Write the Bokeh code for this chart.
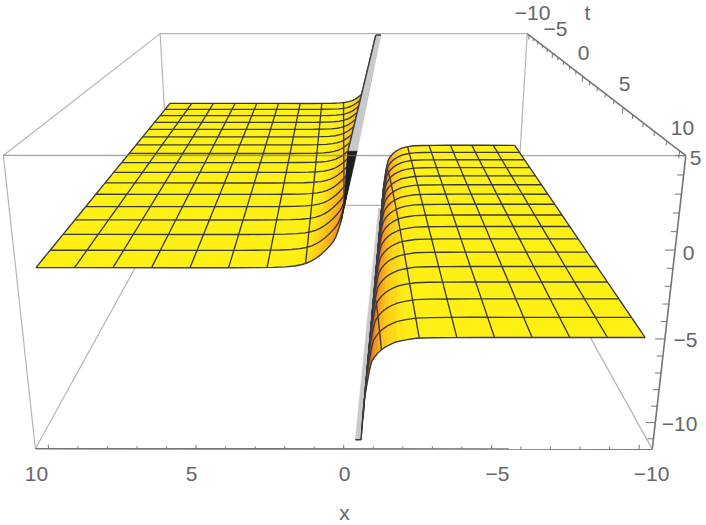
import numpy as np
from bokeh.plotting import figure
from bokeh.models import Range1d, ColumnDataSource
from bokeh.core.properties import value
from bokeh.embed import file_html
from bokeh.resources import INLINE

# --- values (axis units) ---
X_BOX = 10.45
T_BOX = 10.45
Z_TOP = 5.0
Z_BOTTOM = -11.65
mesh_x = [10, 8.75, 7.5, 6.25, 5, 3.75, 2.5, 1.25, 0, -1.25, -2.5, -3.75, -5, -6.25, -7.5, -8.75, -10]
mesh_t = [-10, -8.75, -7.5, -6.25, -5, -3.75, -2.5, -1.25, 0, 1.25, 2.5, 3.75, 5, 6.25, 7.5, 8.75, 10]
ridge_at_t0 = -1.25
ridge_per_t = 0.085
left_level = -1.35
right_level = -5.37
# distance from the ridge and height above / below the flat level of each sheet
left_dist = [0.29, 0.31, 0.33, 0.36, 0.40, 0.45, 0.50, 0.56, 0.62, 0.68, 0.76, 0.85, 1.0, 1.15, 1.3, 1.45, 1.6, 1.8, 2.0, 2.3, 2.7, 3.2, 4, 6, 9, 13]
left_rise = [6.35, 5.75, 5.3, 4.55, 3.7, 3.05, 2.6, 2.25, 1.95, 1.68, 1.45, 1.25, 0.98, 0.74, 0.55, 0.39, 0.27, 0.17, 0.10, 0.05, 0.02, 0.01, 0, 0, 0, 0]
right_dist = [0.20, 0.22, 0.24, 0.27, 0.30, 0.37, 0.45, 0.53, 0.62, 0.72, 0.85, 1.0, 1.15, 1.33, 1.6, 2.0, 2.5, 3.2, 4, 6, 9, 13]
right_drop = [6.28, 5.6, 5.05, 4.3, 3.75, 2.9, 2.05, 1.45, 1.18, 0.95, 0.73, 0.55, 0.41, 0.27, 0.16, 0.05, 0.02, 0.01, 0, 0, 0, 0]
x_tick_labels = ["10", "5", "0", "\u22125", "\u221210"]
t_tick_labels = ["\u221210", "\u22125", "0", "5", "10"]
z_tick_labels = ["5", "0", "\u22125", "\u221210"]

# --- camera: fitted to where the box corners and ticks fall in the picture ---
calib_3d = [(X_BOX, T_BOX, Z_TOP), (-X_BOX, T_BOX, Z_TOP), (X_BOX, T_BOX, Z_BOTTOM), (-X_BOX, T_BOX, Z_BOTTOM),
            (X_BOX, -T_BOX, Z_TOP), (-X_BOX, -T_BOX, Z_TOP), (X_BOX, -T_BOX, Z_BOTTOM), (-X_BOX, -T_BOX, Z_BOTTOM),
            (-X_BOX, T_BOX, 0), (-X_BOX, T_BOX, -5), (-X_BOX, T_BOX, -10)]
calib_px = [(2.5, 155), (685, 155), (35, 448), (652, 448), (160, 33), (527, 33), (169, 205), (516, 205),
            (674, 250), (664, 339), (656, 422)]
A, b = [], []
for (x, t, z), (u, v) in zip(calib_3d, calib_px):
    A.append([x, t, z, 1, 0, 0, 0, 0, -u * x, -u * t, -u * z]); b.append(u)
    A.append([0, 0, 0, 0, x, t, z, 1, -v * x, -v * t, -v * z]); b.append(v)
P = np.append(np.linalg.lstsq(np.array(A, float), np.array(b, float), rcond=None)[0], 1.0).reshape(3, 4)


def proj(x, t, z):
    x, t, z = np.broadcast_arrays(np.asarray(x, float), np.asarray(t, float), np.asarray(z, float))
    w = P[2, 0] * x + P[2, 1] * t + P[2, 2] * z + P[2, 3]
    return ((P[0, 0] * x + P[0, 1] * t + P[0, 2] * z + P[0, 3]) / w,
            (P[1, 0] * x + P[1, 1] * t + P[1, 2] * z + P[1, 3]) / w)


def ridge(t):
    return ridge_at_t0 + ridge_per_t * np.asarray(t, float)


p = figure(width=706, height=525, x_range=Range1d(0, 706), y_range=Range1d(525, 0),
           x_axis_type=None, y_axis_type=None, toolbar_location=None, output_backend="svg",
           min_border=0, outline_line_color=None, background_fill_color="white",
           styles={"position": "absolute", "left": "0px", "top": "0px"})


def lines(segs, color, width, alpha=1.0):
    xs, ys = [], []
    for (a, b_, c) in segs:
        u, v = proj(a, b_, c)
        xs.append(list(u)); ys.append(list(v))
    p.multi_line(xs, ys, line_color=color, line_width=width, line_alpha=alpha)


GREY = "#b4b4b4"
AX = "#757575"
# back of the box
lines([([X_BOX, -X_BOX], [-T_BOX, -T_BOX], [Z_TOP, Z_TOP]),
       ([X_BOX, -X_BOX], [-T_BOX, -T_BOX], [Z_BOTTOM, Z_BOTTOM]),
       ([X_BOX, X_BOX], [-T_BOX, -T_BOX], [Z_TOP, Z_BOTTOM]),
       ([-X_BOX, -X_BOX], [-T_BOX, -T_BOX], [Z_TOP, Z_BOTTOM]),
       ([X_BOX, X_BOX], [-T_BOX, T_BOX], [Z_TOP, Z_TOP]),
       ([X_BOX, X_BOX], [-T_BOX, T_BOX], [Z_BOTTOM, Z_BOTTOM]),
       ([-X_BOX, -X_BOX], [-T_BOX, T_BOX], [Z_BOTTOM, Z_BOTTOM]),
       ([X_BOX, X_BOX], [T_BOX, T_BOX], [Z_TOP, Z_BOTTOM])], GREY, 1.2)

YEL = np.array([255, 240, 20.0])
ORA = np.array([250, 150, 20.0])
BRN = np.array([170, 85, 25.0])
BLK = "#1e1e20"


def shade(s):
    s = float(s)
    if s < 0.2:
        c = YEL
    elif s < 2.5:
        c = YEL + (ORA - YEL) * (s - 0.2) / 2.3
    else:
        c = ORA + (BRN - ORA) * min(1.0, (s - 2.5) / 9)
    return "#%02x%02x%02x" % tuple(int(v) for v in c)


def sheet(dist, height, side, xmin, xmax):
    # the far cells are painted before the near ones
    dist = np.array(dist)
    height = np.array(height)
    xs, ys, cols = [], [], []
    u0, v0 = proj([xmin, xmax, xmax], [-10, -10, 10], [0, 0, 0])
    ref = np.sign((u0[1] - u0[0]) * (v0[2] - v0[1]) - (v0[1] - v0[0]) * (u0[2] - u0[1]))
    order = range(len(dist) - 2, -1, -1)
    for j in range(16):
        t0, t1 = mesh_t[j], mesh_t[j + 1]
        for i in order:
            d0, d1 = dist[i], dist[i + 1]
            h0, h1 = height[i], height[i + 1]
            x00 = np.clip(ridge(t0) + side * d0, xmin, xmax); x10 = np.clip(ridge(t0) + side * d1, xmin, xmax)
            x01 = np.clip(ridge(t1) + side * d0, xmin, xmax); x11 = np.clip(ridge(t1) + side * d1, xmin, xmax)
            u, v = proj([x00, x10, x11, x01], [t0, t0, t1, t1], [h0, h1, h1, h0])
            area = 0.5 * np.sum(u * np.roll(v, -1) - np.roll(u, -1) * v)
            if abs(area) < 1e-4:
                continue
            back = (np.sign(area) * side != ref)
            cols.append(BLK if back else shade(abs(h1 - h0) / (d1 - d0)))
            xs.append(list(u)); ys.append(list(v))
    src = ColumnDataSource(dict(xs=xs, ys=ys, c=cols))
    p.patches("xs", "ys", source=src, fill_color="c", line_color="c", line_width=0.6)


def sheet_lines(dist, height, side, xmin, xmax):
    dist = np.array(dist)
    height = np.array(height)
    segs = []
    for t in mesh_t:
        xv = np.clip(ridge(t) + side * dist, xmin, xmax)
        segs.append((xv, np.full_like(xv, t, dtype=float), height))
    ts = np.linspace(-10, 10, 81)
    for x in mesh_x:
        if not (xmin <= x <= xmax):
            continue
        d = side * (x - ridge(ts))
        ok = d >= dist[0]
        if ok.sum() < 2:
            continue
        h = np.interp(d[ok], dist, height)
        segs.append((np.full(ok.sum(), float(x)), ts[ok], h))
    lines(segs, "#3a3a44", 1.35)


left_z = [left_level + r for r in left_rise]
right_z = [right_level - r for r in right_drop]

sheet(left_dist, left_z, 1, -10, 10)
sheet_lines(left_dist, left_z, 1, -10, 10)

# underside of the left sheet seen past its front edge
front_k = [i for i, z in enumerate(left_z) if z >= 1.0]
dx = [float(ridge(10)) + left_dist[i] for i in front_k] + [float(ridge(10))]
dz = [left_z[i] for i in front_k] + [Z_TOP]
du, dv = proj(dx, [10] * len(dx), dz)
p.patch(list(du), list(dv), fill_color=BLK, line_color=BLK, line_width=0.5)

# flat top of the clipped part, upper side
CAP = "#c9c9cb"
cu, cv = proj([ridge(-10), ridge(-10) + left_dist[0], ridge(10) + left_dist[0], ridge(10)], [-10, -10, 10, 10], [Z_TOP] * 4)
p.patch(list(cu), list(cv), fill_color=CAP, line_color=CAP, line_width=0.5)
lines([([ridge(-10) + left_dist[0], ridge(10) + left_dist[0]], [-10, 10], [Z_TOP, Z_TOP]),
       ([ridge(-10), ridge(-10) + left_dist[0]], [-10, -10], [Z_TOP, Z_TOP])], "#3a3a44", 1.4)

# front top edge runs across the left sheet
lines([([X_BOX, -X_BOX], [T_BOX, T_BOX], [Z_TOP, Z_TOP])], AX, 1.3, 0.65)

# flat bottom of the clipped part, lower side
cu, cv = proj([ridge(-10), ridge(-10) - right_dist[0], ridge(10) - right_dist[0], ridge(10)], [-10, -10, 10, 10], [Z_BOTTOM] * 4)
p.patch(list(cu), list(cv), fill_color=CAP, line_color=CAP, line_width=0.5)
lines([([ridge(10), ridge(10) - right_dist[0]], [10, 10], [Z_BOTTOM, Z_BOTTOM])], "#3a3a44", 1.4)

sheet(right_dist, right_z, -1, -10, 10)
sheet_lines(right_dist, right_z, -1, -10, 10)

# axes with ticks
lines([([X_BOX, -X_BOX], [T_BOX, T_BOX], [Z_BOTTOM, Z_BOTTOM]),
       ([-X_BOX, -X_BOX], [-T_BOX, T_BOX], [Z_TOP, Z_TOP]),
       ([-X_BOX, -X_BOX], [T_BOX, T_BOX], [Z_TOP, Z_BOTTOM])], AX, 1.6)
segs = []
for k in range(-10, 11):
    m = 1.6 if k % 5 == 0 else 1.0
    segs.append(([k, k], [T_BOX, T_BOX], [Z_BOTTOM, Z_BOTTOM + 0.16 * m]))
    segs.append(([-X_BOX, -X_BOX], [k, k], [Z_TOP, Z_TOP - 0.25 * m]))
for k in range(-11, 6):
    m = 1.6 if k % 5 == 0 else 1.0
    segs.append(([-X_BOX, -X_BOX + 0.2 * m], [T_BOX, T_BOX], [k, k]))
lines(segs, AX, 1.0)

# axis texts, centred where the picture has them
lbl_x = [36, 191, 344, 497, 651] + [344] + [532, 555, 583, 624, 682] + [587] + [695, 688, 685, 679]
lbl_y = [473] * 5 + [512] + [12, 28, 52, 83, 127] + [12] + [157, 252, 339, 423]
lbl_txt = x_tick_labels + ["x"] + t_tick_labels + ["t"] + z_tick_labels
p.text(lbl_x, lbl_y, text=lbl_txt, text_font=value("Liberation Sans"), text_font_size="21px",
       text_color="#666666", text_align="center", text_baseline="middle")

open("out.html", "w").write(file_html(p, INLINE))
